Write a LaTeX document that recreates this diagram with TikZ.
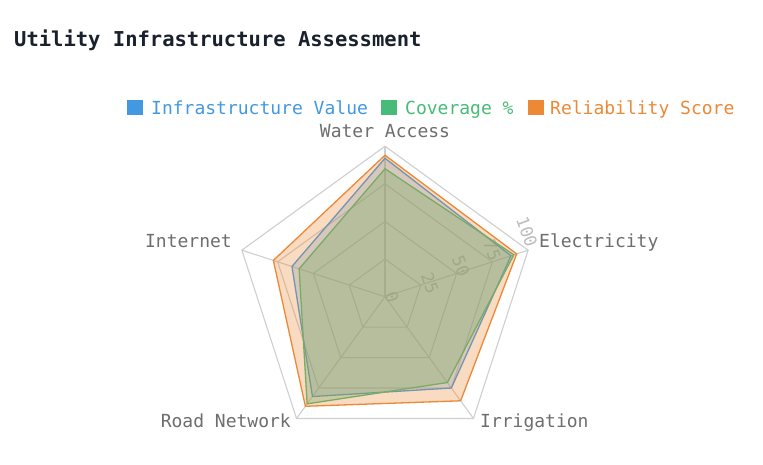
\documentclass[tikz,border=0pt]{standalone}
\usepackage{fontspec}
\usetikzlibrary{calc}
\setmainfont{DejaVu Sans Mono}
\definecolor{cblue}{HTML}{4299E1}
\definecolor{cgreen}{HTML}{48BB78}
\definecolor{corange}{HTML}{ED8936}
\definecolor{ctitle}{HTML}{1A202C}
\definecolor{caxis}{HTML}{6E6E6E}
\definecolor{cgrid}{HTML}{CFCFCF}
\definecolor{ctick}{HTML}{BDBDBD}
\tikzset{
  gridline/.style={draw=cgrid, line width=1.1pt},
  axislabel/.style={font=\fontsize{18}{20}\selectfont, text=caxis, inner sep=0pt},
  ticklabel/.style={font=\fontsize{17}{18}\selectfont, text=ctick, inner sep=0pt, rotate=-70},
  legendtext/.style={font=\fontsize{18}{20}\selectfont, inner sep=0pt, anchor=mid west},
  legendbox/.style={minimum width=16pt, minimum height=15pt, inner sep=0pt, anchor=west},
  series/.style={line width=1.3pt, line join=miter},
}
\newcommand{\R}{1.505}
\begin{document}
\begin{tikzpicture}[x=1pt,y=1pt]
\useasboundingbox (0,0) rectangle (763,465);
\fill[white] (0,0) rectangle (763,465);
\coordinate (c) at (385,168.3);
% axis directions
\foreach \n/\a in {wa/90, el/18, ir/-54, rn/-126, in/162}{
  \coordinate (\n) at ($(c)+(\a:150.5)$);
}
% grid polygons
\foreach \v in {25,50,75,100}{
  \draw[gridline] ($(c)+(90:\v*\R)$) -- ($(c)+(18:\v*\R)$) -- ($(c)+(-54:\v*\R)$) -- ($(c)+(-126:\v*\R)$) -- ($(c)+(162:\v*\R)$) -- cycle;
}
\foreach \n in {wa,el,ir,rn,in}{
  \draw[gridline] (c) -- (\n);
}
% tick labels
\node[ticklabel] (t0) at (392,168) {0};
\node[ticklabel] (t25) at (430,182) {25};
\node[ticklabel] (t50) at (461,199) {50};
\node[ticklabel] (t75) at (492,215) {75};
\node[ticklabel] (t100) at (527,233) {100};
% series: Infrastructure Value
\filldraw[series, draw=cblue, fill=cblue, fill opacity=0.26]
  ($(c)+(90:92*\R)$) -- ($(c)+(18:88*\R)$) -- ($(c)+(-54:75*\R)$) -- ($(c)+(-126:82*\R)$) -- ($(c)+(162:65*\R)$) -- cycle;
% Coverage %
\filldraw[series, draw=cgreen, fill=cgreen, fill opacity=0.34]
  ($(c)+(90:85*\R)$) -- ($(c)+(18:90*\R)$) -- ($(c)+(-54:70.5*\R)$) -- ($(c)+(-126:88*\R)$) -- ($(c)+(162:60*\R)$) -- cycle;
% Reliability Score
\filldraw[series, draw=corange, fill=corange, fill opacity=0.3]
  ($(c)+(90:94*\R)$) -- ($(c)+(18:92*\R)$) -- ($(c)+(-54:85.5*\R)$) -- ($(c)+(-126:90*\R)$) -- ($(c)+(162:78*\R)$) -- cycle;
% axis labels
\node[axislabel, anchor=mid] (lwa) at (385,330) {Water Access};
\node[axislabel, anchor=mid west] (lel) at (539,220) {Electricity};
\node[axislabel, anchor=mid east] (lin) at (232,220) {Internet};
\node[axislabel, anchor=mid east] (lrn) at (291,40) {Road Network};
\node[axislabel, anchor=mid west] (lir) at (480,40) {Irrigation};
% title
\node[font=\bfseries\fontsize{20.5}{22}\selectfont, text=ctitle, anchor=mid west, inner sep=0pt] (title) at (14,421) {Utility Infrastructure Assessment};
% legend
\node[legendbox, fill=cblue] (b1) at (127,357.5) {};
\node[legendtext, text=cblue] (l1) at (151,353) {Infrastructure Value};
\node[legendbox, fill=cgreen] (b2) at (381,357.5) {};
\node[legendtext, text=cgreen] (l2) at (405,353) {Coverage \%};
\node[legendbox, fill=corange] (b3) at (528,357.5) {};
\node[legendtext, text=corange] (l3) at (550,353) {Reliability Score};
\end{tikzpicture}
\end{document}
